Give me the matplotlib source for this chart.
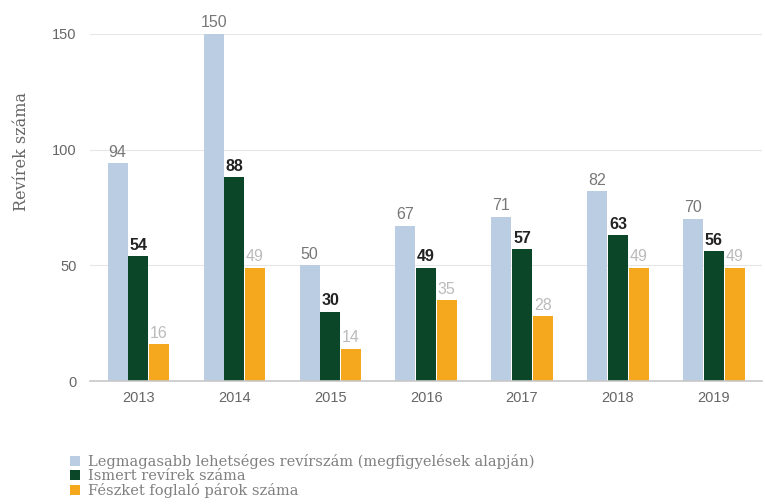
import numpy as np
import matplotlib.pyplot as plt

years = ["2013", "2014", "2015", "2016", "2017", "2018", "2019"]
max_possible = [94, 150, 50, 67, 71, 82, 70]
known = [54, 88, 30, 49, 57, 63, 56]
nesting = [16, 49, 14, 35, 28, 49, 49]

series_names = [
    "Legmagasabb lehetséges revírszám (megfigyelések alapján)",
    "Ismert revírek száma",
    "Fészket foglaló párok száma",
]
colors = ["#bacde3", "#0b4629", "#f5a71d"]
label_styles = [
    dict(color="#777777", fontweight="normal"),
    dict(color="#222222", fontweight="bold"),
    dict(color="#bbbbbb", fontweight="normal"),
]

fig = plt.figure(figsize=(7.65, 5.04), dpi=100)
ax = fig.add_axes([0.118, 0.244, 0.878, 0.689])

x = np.arange(len(years))
width = 0.215
offsets = [-width, 0, width]

handles = []
for vals, off, col, style, name in zip(
    [max_possible, known, nesting], offsets, colors, label_styles, series_names
):
    bars = ax.bar(x + off, vals, width=width * 0.97, color=col, label=name, zorder=2)
    handles.append(bars)
    for b, v in zip(bars, vals):
        ax.text(b.get_x() + b.get_width() / 2, v + 1.5, str(v), ha="center",
                va="bottom", fontsize=11.5, family="Liberation Sans", clip_on=False,
                **style)

ax.set_xlim(-0.5, len(years) - 0.5)
ax.set_ylim(0, 150)
ax.set_yticks([0, 50, 100, 150])
ax.set_xticks(x)
ax.set_xticklabels(years)
ax.grid(axis="y", color="#e6e6e6", lw=0.8, zorder=0)
for s in ["top", "right", "left"]:
    ax.spines[s].set_visible(False)
ax.spines["bottom"].set_color("#c8c8c8")
ax.spines["bottom"].set_linewidth(1.2)
ax.tick_params(axis="both", length=0, labelsize=10.5, labelcolor="#666666",
               labelfontfamily="Liberation Sans")
ax.tick_params(axis="x", pad=7)
ax.tick_params(axis="y", pad=10)

ax.set_ylabel("Revírek száma", family="DejaVu Serif", fontsize=11.5,
              color="#666666")
ax.yaxis.set_label_coords(-0.09, 0.66)

# legend sits below the axes, left-aligned, three stacked rows
fig.legend(handles=handles, loc="upper left", bbox_to_anchor=(0.082, 0.113),
           frameon=False, prop=dict(family="DejaVu Serif", size=10.5),
           labelcolor="#808080", handlelength=0.7, handleheight=0.7,
           handletextpad=0.5, labelspacing=0.0, borderpad=0)

fig.savefig("out.png", dpi=100)
